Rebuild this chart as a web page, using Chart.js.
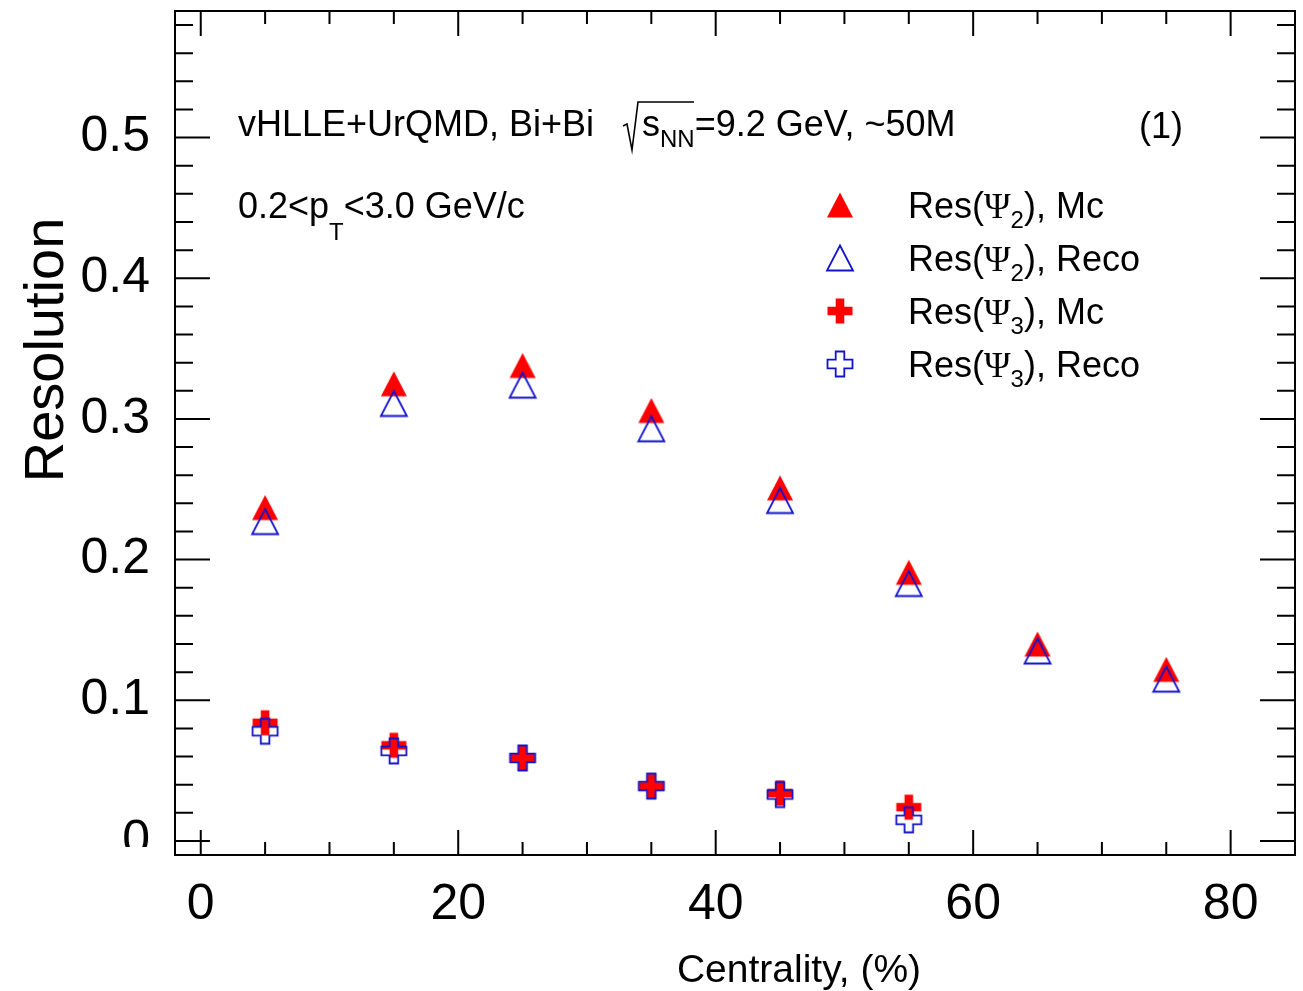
<!DOCTYPE html>
<html>
<head>
<meta charset="utf-8">
<script src="https://cdn.jsdelivr.net/npm/chart.js@4.4.0/dist/chart.umd.min.js"></script>
<style>
  body { margin: 0; background: #fff; }
</style>
</head>
<body>
<canvas id="resChart" width="1303" height="991"></canvas>
<script>
// data
var centrality     = [5, 15, 25, 35, 45, 55, 65, 75];
var centralityPsi3 = [5, 15, 25, 35, 45, 55];
var resPsi2Mc   = [0.237, 0.325, 0.338, 0.306, 0.251, 0.191, 0.140, 0.122];
var resPsi2Reco = [0.227, 0.311, 0.324, 0.293, 0.242, 0.183, 0.135, 0.115];
var resPsi3Mc   = [0.084, 0.068, 0.059, 0.039, 0.034, 0.024];
var resPsi3Reco = [0.078, 0.064, 0.059, 0.039, 0.033, 0.015];
var xTicks = [0, 20, 40, 60, 80];
var yTicks = [0, 0.1, 0.2, 0.3, 0.4, 0.5];
var yTickLabels = ["0", "0.1", "0.2", "0.3", "0.4", "0.5"];

var FONT = "'Liberation Sans', Arial, Helvetica, sans-serif";
var SERIF = "'Liberation Serif', 'Times New Roman', serif";
var RED = "#ff0000";
var BLUE = "#1212cc";

// ROOT-like markers drawn on small canvases
function markerCanvas(draw) {
  var c = document.createElement("canvas");
  c.width = 30;
  c.height = 30;
  draw(c.getContext("2d"));
  return c;
}
function trianglePath(ctx) {
  ctx.beginPath();
  ctx.moveTo(15, 2.5);
  ctx.lineTo(28, 27.5);
  ctx.lineTo(2, 27.5);
  ctx.closePath();
}
function crossPath(ctx) {
  var a = 4.3, lo = 2.5, hi = 27.5, c = 15;
  ctx.beginPath();
  ctx.moveTo(c - a, lo); ctx.lineTo(c + a, lo); ctx.lineTo(c + a, c - a);
  ctx.lineTo(hi, c - a); ctx.lineTo(hi, c + a); ctx.lineTo(c + a, c + a);
  ctx.lineTo(c + a, hi); ctx.lineTo(c - a, hi); ctx.lineTo(c - a, c + a);
  ctx.lineTo(lo, c + a); ctx.lineTo(lo, c - a); ctx.lineTo(c - a, c - a);
  ctx.closePath();
}
var triFull = markerCanvas(function (ctx) { trianglePath(ctx); ctx.fillStyle = RED; ctx.fill(); });
var triOpen = markerCanvas(function (ctx) { trianglePath(ctx); ctx.strokeStyle = BLUE; ctx.lineWidth = 1.8; ctx.stroke(); });
var crossFull = markerCanvas(function (ctx) { crossPath(ctx); ctx.fillStyle = RED; ctx.fill(); });
var crossOpen = markerCanvas(function (ctx) { crossPath(ctx); ctx.strokeStyle = BLUE; ctx.lineWidth = 1.8; ctx.stroke(); });

function pts(xs, ys) {
  return ys.map(function (y, i) { return { x: xs[i], y: y }; });
}

// text runs with sub/superscripts
function runs(ctx, x, y, parts) {
  parts.forEach(function (p) {
    ctx.font = p.f;
    ctx.fillText(p.t, x, y + (p.dy || 0));
    x += ctx.measureText(p.t).width;
  });
  return x;
}

function noPad(s) {
  s.paddingTop = 0;
  s.paddingBottom = 0;
  s.paddingLeft = 0;
  s.paddingRight = 0;
}

var rootFrame = {
  id: "rootFrame",
  beforeDatasetsDraw: function (chart) {
    var ctx = chart.ctx, a = chart.chartArea;
    var sx = chart.scales.x, sy = chart.scales.y;
    ctx.save();
    ctx.strokeStyle = "#000";
    ctx.lineWidth = 2;
    ctx.strokeRect(a.left, a.top, a.right - a.left, a.bottom - a.top);
    ctx.beginPath();
    // x ticks, every 5, majors every 20
    for (var v = 0; v < 85; v += 5) {
      var px = sx.getPixelForValue(v);
      var len = (v % 20 === 0) ? 25 : 13;
      ctx.moveTo(px, a.bottom); ctx.lineTo(px, a.bottom - len);
      ctx.moveTo(px, a.top); ctx.lineTo(px, a.top + len);
    }
    // y ticks, every 0.02, majors every 0.1
    for (var k = 0; k <= 29; k++) {
      var py = sy.getPixelForValue(k * 0.02);
      var l = (k % 5 === 0) ? 35 : 18;
      ctx.moveTo(a.left, py); ctx.lineTo(a.left + l, py);
      ctx.moveTo(a.right, py); ctx.lineTo(a.right - l, py);
    }
    ctx.stroke();
    ctx.restore();
  },
  afterDraw: function (chart) {
    var ctx = chart.ctx;
    ctx.save();
    // the bottom of the "0" label is cut in the original
    ctx.fillStyle = "#fff";
    ctx.fillRect(60, chart.chartArea.bottom - 8, chart.chartArea.left - 63, 40);

    ctx.fillStyle = "#000";
    ctx.textBaseline = "alphabetic";
    ctx.textAlign = "left";

    // axis titles
    ctx.save();
    ctx.translate(63, 350);
    ctx.rotate(-Math.PI / 2);
    ctx.textAlign = "center";
    ctx.font = "56px " + FONT;
    ctx.fillText("Resolution", 0, 0);
    ctx.restore();
    ctx.textAlign = "center";
    ctx.font = "39px " + FONT;
    ctx.fillText("Centrality, (%)", 799, 982);
    ctx.textAlign = "left";

    var big = "36px " + FONT, small = "24px " + FONT;
    runs(ctx, 238, 136, [{ t: "vHLLE+UrQMD, Bi+Bi", f: big }]);
    // sqrt(s_NN)
    ctx.strokeStyle = "#000";
    ctx.lineWidth = 1.6;
    ctx.beginPath();
    ctx.moveTo(623, 126); ctx.lineTo(627, 124); ctx.lineTo(632, 150);
    ctx.lineTo(638, 102); ctx.lineTo(694, 102);
    ctx.stroke();
    runs(ctx, 642, 136, [
      { t: "s", f: big },
      { t: "NN", f: small, dy: 11 },
      { t: "=9.2 GeV, ~50M", f: big }
    ]);
    runs(ctx, 1139, 138, [{ t: "(1)", f: big }]);
    runs(ctx, 238, 218, [
      { t: "0.2<p", f: big },
      { t: "T", f: small, dy: 22 },
      { t: "<3.0 GeV/c", f: big }
    ]);

    // legend
    var rows = [
      { m: triFull, n: "2", s: "Mc" },
      { m: triOpen, n: "2", s: "Reco" },
      { m: crossFull, n: "3", s: "Mc" },
      { m: crossOpen, n: "3", s: "Reco" }
    ];
    rows.forEach(function (r, i) {
      var yc = 205 + i * 53;
      ctx.drawImage(r.m, 840 - 15, yc - 15);
      runs(ctx, 908, yc + 13, [
        { t: "Res(", f: big },
        { t: "\u03A8", f: "36px " + SERIF },
        { t: r.n, f: small, dy: 10 },
        { t: "), " + r.s, f: big }
      ]);
    });
    ctx.restore();
  }
};

var resChart = new Chart(document.getElementById("resChart").getContext("2d"), {
  type: "scatter",
  data: {
    datasets: [
      { label: "Res(Psi2), Mc", data: pts(centrality, resPsi2Mc), pointStyle: triFull, pointRadius: 13, order: 2 },
      { label: "Res(Psi2), Reco", data: pts(centrality, resPsi2Reco), pointStyle: triOpen, pointRadius: 13, order: 1 },
      { label: "Res(Psi3), Mc", data: pts(centralityPsi3, resPsi3Mc), pointStyle: crossFull, pointRadius: 13, order: 2 },
      { label: "Res(Psi3), Reco", data: pts(centralityPsi3, resPsi3Reco), pointStyle: crossOpen, pointRadius: 13, order: 1 }
    ]
  },
  options: {
    responsive: false,
    animation: false,
    layout: { autoPadding: false, padding: { top: 11, right: 8, left: 0, bottom: 0 } },
    plugins: {
      legend: { display: false },
      tooltip: { enabled: false }
    },
    scales: {
      x: {
        type: "linear",
        min: -2,
        max: 85,
        grid: { display: false, drawTicks: false },
        border: { display: false },
        ticks: {
          font: { family: FONT, size: 50 },
          color: "#000",
          padding: 20,
          includeBounds: false,
          callback: function (v) { return String(v); }
        },
        afterBuildTicks: function (s) { s.ticks = xTicks.map(function (v) { return { value: v }; }); },
        afterFit: function (s) { s.height = 136; noPad(s); }
      },
      y: {
        type: "linear",
        min: -0.01,
        max: 0.59,
        grid: { display: false, drawTicks: false },
        border: { display: false },
        ticks: {
          font: { family: FONT, size: 50 },
          color: "#000",
          padding: 25,
          includeBounds: false,
          callback: function (v) { return yTickLabels[yTicks.indexOf(v)]; }
        },
        afterBuildTicks: function (s) { s.ticks = yTicks.map(function (v) { return { value: v }; }); },
        afterFit: function (s) { s.width = 175; noPad(s); }
      }
    }
  },
  plugins: [rootFrame]
});
</script>
</body>
</html>
